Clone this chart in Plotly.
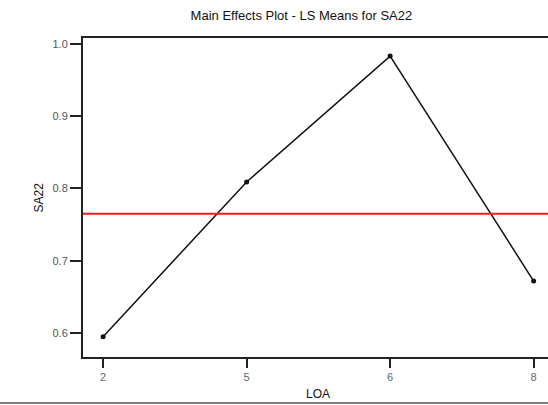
import plotly.graph_objects as go

categories = ["2", "5", "6", "8"]
ls_means = [0.595, 0.809, 0.983, 0.672]
overall_mean = 0.765
y_ticks = [0.6, 0.7, 0.8, 0.9, 1.0]
y_tick_labels = ["0.6", "0.7", "0.8", "0.9", "1.0"]

xpos = list(range(len(categories)))

PLOT_L, PLOT_T, PLOT_B = 83, 38, 48
PLOT_H = 405 - PLOT_T - PLOT_B
PLOT_W = 548 - PLOT_L

fig = go.Figure()
fig.add_trace(go.Scatter(
    x=xpos, y=ls_means, mode="lines+markers",
    line=dict(color="#111111", width=1.5),
    marker=dict(color="#111111", size=5, symbol="circle"),
    showlegend=False,
))

fig.update_layout(
    width=548, height=405,
    paper_bgcolor="white", plot_bgcolor="white",
    margin=dict(l=PLOT_L, r=0, t=PLOT_T, b=PLOT_B, autoexpand=False),
    font=dict(family="Liberation Sans, Arial, sans-serif", size=11, color="#222"),
    title=dict(text="Main Effects Plot - LS Means for SA22", x=0.55, xanchor="center",
               y=1 - 15 / 405, yanchor="middle", font=dict(size=13, color="#111")),
    xaxis=dict(range=[-0.14, 3.1], tickmode="array", tickvals=xpos, ticktext=categories,
               showgrid=False, zeroline=False, showline=True, linecolor="#222", linewidth=2,
               mirror=True, ticks="outside", ticklen=9, tickwidth=2, tickcolor="#222",
               tickfont=dict(size=11, color="#666")),
    yaxis=dict(range=[0.567, 1.008], tickmode="array", tickvals=y_ticks, ticktext=y_tick_labels,
               showgrid=False, zeroline=False, showline=True, linecolor="#222", linewidth=2,
               ticks="outside", ticklen=11, tickwidth=2, tickcolor="#222",
               tickfont=dict(size=11, color="#555")),
    annotations=[
        dict(text="SA22", x=(38 - PLOT_L) / PLOT_W, xref="paper", y=0.5, yref="paper",
             showarrow=False, textangle=-90, font=dict(size=12, color="#111"),
             xanchor="center", yanchor="middle"),
        dict(text="LOA", x=(318 - PLOT_L) / PLOT_W, xref="paper", y=-(394 - 357) / PLOT_H,
             yref="paper", showarrow=False, font=dict(size=12, color="#111"),
             xanchor="center", yanchor="middle"),
    ],
    shapes=[
        dict(type="line", xref="paper", yref="y", x0=0, x1=1, y0=overall_mean, y1=overall_mean,
             line=dict(color="#ff1a1a", width=2)),
        dict(type="line", xref="paper", yref="paper", x0=-PLOT_L / PLOT_W, x1=1.0,
             y0=-(403 - 357) / PLOT_H, y1=-(403 - 357) / PLOT_H,
             line=dict(color="#555", width=1.5)),
    ],
)

fig.write_html("out.html", config={"displayModeBar": False},
               post_script="document.body.style.margin='0';")
